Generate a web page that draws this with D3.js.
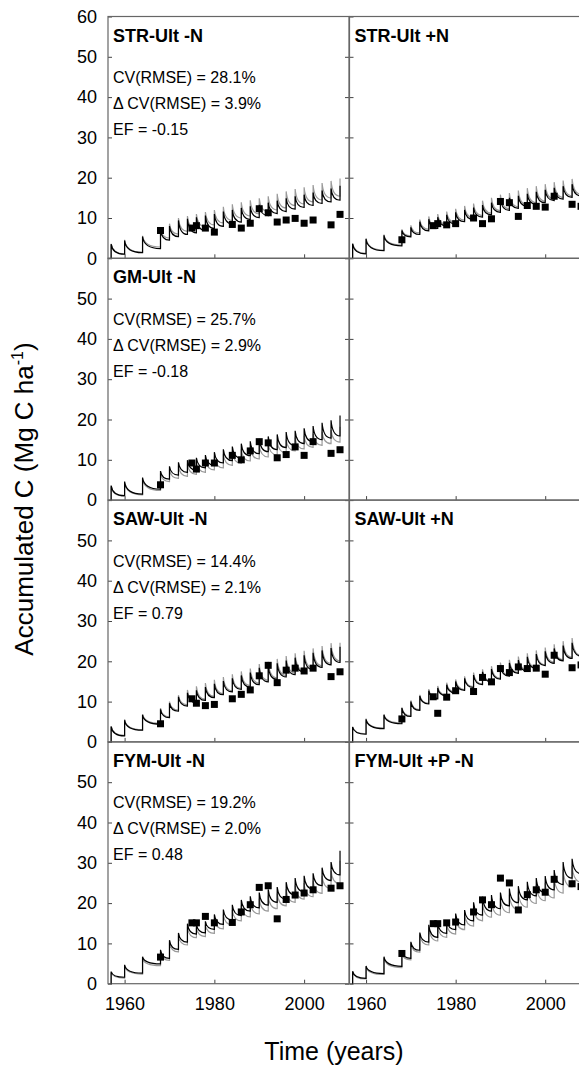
<!DOCTYPE html>
<html>
  <head>
    <meta charset="utf-8">
    <title>Accumulated C</title>
    <script src="https://d3js.org/d3.v7.min.js"></script>
    <style>
    body { margin: 0; background: #fff; }
    text { font-family: "Liberation Sans", Arial, sans-serif; fill: #000; }
    .frame { fill: none; stroke: #666; stroke-width: 1.2px; }
    .axis path { display: none; }
    .axis line { stroke: #444; stroke-width: 1px; }
    .axis text { font-size: 18px; }
    </style>
  </head>
  <body>
    <script>
      // ====================================
      // data
      // ====================================
      // years when the model applies the amendment (sawtooth spikes)
      const appYears = [1957, 1960, 1964, 1968, 1970, 1972, 1974, 1976, 1978, 1980, 1982, 1984,
                        1986, 1988, 1990, 1992, 1994, 1996, 1998, 2000, 2002, 2004, 2006, 2008];
      // years with measured values
      const obsYears = [1968, 1975, 1976, 1978, 1980, 1984, 1986, 1988, 1990, 1992, 1994, 1996,
                        1998, 2000, 2002, 2006, 2008];

      const yTicksTop = [0, 10, 20, 30, 40, 50, 60];
      const yTicks = [0, 10, 20, 30, 40, 50];
      const xTicks = [1960, 1980, 2000];

      // left column stats
      const cvRmse = ["28.1", "25.7", "14.4", "19.2"];
      const dCvRmse = ["3.9", "2.9", "2.1", "2.0"];
      const efValues = ["-0.15", "-0.18", "0.79", "0.48"];

      // STR-Ult -N
      const strN_obs = [6.9, 7.5, 8.1, 7.5, 6.5, 8.4, 7.5, 8.7, 12.3, 11.3, 9.0, 9.5, 9.9, 8.7, 9.5, 8.3, 10.9];
      const strN_greyPeak = [3.6, 4.6, 5.6, 7.4, 8.6, 10.0, 10.5, 11.0, 11.5, 12.0, 12.8, 13.4, 13.9, 14.4, 14.9, 15.4, 16.0, 16.6, 17.2, 17.6, 18.2, 18.7, 19.2, 19.8];
      const strN_greyLow = [1.1, 1.5, 2.8, 5.0, 6.0, 6.7, 7.2, 7.8, 8.3, 8.8, 9.4, 10.0, 10.5, 11.0, 11.6, 12.0, 12.5, 13.1, 13.5, 14.0, 14.5, 15.0, 15.4];
      const strN_blackPeak = [3.5, 4.4, 5.4, 7.0, 8.0, 9.4, 9.8, 10.2, 10.6, 11.0, 11.6, 12.0, 12.5, 12.9, 13.3, 13.8, 14.3, 14.9, 15.4, 15.8, 16.3, 16.8, 17.3, 18.0];
      const strN_blackLow = [1.0, 1.4, 2.4, 4.5, 5.4, 5.9, 6.3, 6.9, 7.4, 7.9, 8.5, 9.0, 9.6, 10.1, 10.6, 11.1, 11.6, 12.2, 12.6, 13.1, 13.6, 14.0, 14.4];

      // STR-Ult +N
      const strP_obs = [4.6, 8.1, 8.6, 8.3, 8.6, 10.0, 8.6, 9.8, 14.1, 13.8, 10.4, 13.1, 12.9, 12.7, 15.4, 13.4, 12.9];
      const strP_greyPeak = [3.7, 5.0, 5.9, 7.2, 8.2, 9.6, 10.4, 11.0, 11.6, 12.3, 13.0, 13.6, 14.3, 15.0, 15.8, 16.2, 16.8, 17.4, 17.9, 18.4, 18.9, 19.3, 19.7, 20.2];
      const strP_greyLow = [1.2, 2.0, 3.3, 5.6, 6.3, 7.2, 7.8, 8.4, 8.9, 9.5, 10.0, 10.6, 11.2, 11.8, 12.3, 12.8, 13.3, 13.8, 14.2, 14.7, 15.1, 15.5, 15.9];
      const strP_blackPeak = [3.6, 4.8, 5.7, 6.9, 7.7, 9.1, 9.7, 10.2, 10.8, 11.4, 12.0, 12.6, 13.2, 13.8, 14.6, 15.0, 15.5, 16.0, 16.5, 17.0, 17.5, 17.9, 18.4, 18.9];
      const strP_blackLow = [1.1, 1.9, 3.1, 5.3, 5.9, 6.8, 7.4, 8.0, 8.5, 9.1, 9.6, 10.2, 10.8, 11.4, 11.9, 12.4, 12.9, 13.4, 13.8, 14.3, 14.7, 15.1, 15.5];

      // GM-Ult -N
      const gmN_obs = [3.8, 9.2, 7.7, 9.2, 9.2, 11.1, 10.0, 12.2, 14.5, 14.2, 10.5, 11.3, 13.2, 11.1, 14.5, 11.6, 12.5];
      const gmN_greyPeak = [3.4, 4.3, 5.2, 6.6, 7.6, 8.5, 9.0, 9.6, 10.2, 10.8, 11.4, 12.0, 12.6, 13.1, 13.6, 14.1, 14.6, 15.1, 15.6, 16.0, 16.5, 17.0, 17.4, 18.2];
      const gmN_greyLow = [1.0, 1.3, 2.4, 4.6, 5.4, 5.9, 6.4, 6.9, 7.5, 8.0, 8.6, 9.1, 9.7, 10.2, 10.7, 11.2, 11.7, 12.2, 12.7, 13.1, 13.6, 14.0, 14.4];
      const gmN_blackPeak = [3.6, 4.6, 5.6, 7.2, 8.4, 9.4, 9.9, 10.5, 11.2, 11.9, 12.6, 13.3, 14.0, 14.6, 15.2, 15.8, 16.3, 16.9, 17.2, 17.8, 18.4, 19.2, 19.8, 21.0];
      const gmN_blackLow = [1.1, 1.5, 2.7, 5.2, 6.2, 6.9, 7.4, 8.0, 8.6, 9.2, 9.8, 10.4, 11.0, 11.5, 12.0, 12.5, 13.0, 13.5, 14.0, 14.5, 15.0, 15.4, 15.9];

      // SAW-Ult -N
      const sawN_obs = [4.5, 10.7, 9.6, 9.0, 9.3, 10.7, 11.8, 12.9, 16.4, 19.0, 14.7, 17.8, 18.3, 17.6, 18.3, 16.2, 17.4];
      const sawN_greyPeak = [3.9, 5.6, 6.9, 8.4, 10.0, 11.6, 12.9, 13.8, 14.6, 15.4, 16.1, 16.8, 17.5, 18.2, 19.3, 19.9, 20.6, 21.3, 22.0, 22.6, 23.2, 23.8, 24.5, 24.6];
      const sawN_greyLow = [1.6, 3.0, 4.6, 6.2, 7.9, 9.2, 10.0, 10.6, 11.3, 12.0, 12.7, 13.3, 14.0, 14.6, 15.3, 15.9, 16.5, 17.1, 17.7, 18.3, 18.9, 19.5, 20.1];
      const sawN_blackPeak = [3.8, 5.4, 6.7, 8.1, 9.6, 11.2, 12.2, 12.8, 13.6, 14.4, 15.1, 15.8, 16.5, 17.2, 18.4, 18.8, 19.5, 20.2, 20.9, 21.5, 22.1, 22.7, 23.3, 23.6];
      const sawN_blackLow = [1.5, 2.9, 4.4, 6.0, 7.6, 8.9, 9.7, 10.3, 11.0, 11.7, 12.4, 13.0, 13.6, 14.2, 14.9, 15.5, 16.1, 16.7, 17.3, 17.9, 18.5, 19.1, 19.7];

      // SAW-Ult +N
      const sawP_obs = [5.7, 11.2, 7.1, 11.1, 12.7, 12.5, 16.0, 14.9, 18.2, 17.2, 18.6, 18.2, 18.3, 16.8, 21.5, 18.4, 19.1];
      const sawP_greyPeak = [3.8, 5.8, 6.9, 8.6, 10.3, 11.7, 13.1, 13.9, 14.7, 15.5, 16.3, 17.2, 18.0, 18.8, 19.7, 20.4, 21.2, 22.0, 22.7, 23.4, 24.2, 25.0, 25.8, 25.6];
      const sawP_greyLow = [2.0, 3.4, 4.7, 6.5, 8.0, 9.6, 10.9, 11.6, 12.3, 13.0, 13.7, 14.4, 15.1, 15.8, 16.5, 17.2, 17.9, 18.5, 19.1, 19.8, 20.4, 21.0, 21.5];
      const sawP_blackPeak = [3.7, 5.6, 6.7, 8.4, 10.0, 11.4, 12.7, 13.4, 14.2, 15.0, 15.8, 16.6, 17.4, 18.1, 18.9, 19.6, 20.3, 21.1, 21.8, 22.5, 23.2, 23.9, 24.6, 24.8];
      const sawP_blackLow = [1.9, 3.3, 4.5, 6.3, 7.8, 9.4, 10.7, 11.4, 12.1, 12.8, 13.5, 14.2, 14.9, 15.6, 16.3, 17.0, 17.6, 18.2, 18.9, 19.5, 20.1, 20.7, 21.3];

      // FYM-Ult -N
      const fymN_obs = [6.6, 15.1, 15.1, 16.7, 15.1, 15.2, 17.8, 19.6, 23.9, 24.3, 16.1, 20.9, 22.0, 22.5, 23.3, 23.7, 24.3];
      const fymN_greyPeak = [2.8, 4.4, 6.3, 7.9, 10.2, 11.9, 14.0, 13.9, 14.6, 16.1, 17.2, 18.3, 19.4, 20.3, 21.1, 21.8, 22.4, 23.5, 24.4, 25.0, 25.6, 26.8, 28.0, 30.5];
      const fymN_greyLow = [1.4, 2.4, 4.5, 5.8, 7.9, 9.6, 11.4, 11.7, 12.5, 13.6, 14.6, 15.6, 16.6, 17.3, 18.0, 18.6, 19.3, 20.2, 21.0, 21.6, 22.4, 23.6, 24.8];
      const fymN_blackPeak = [3.0, 4.7, 6.7, 8.4, 10.8, 12.6, 14.9, 14.8, 15.5, 17.2, 18.4, 19.6, 20.8, 21.7, 22.6, 23.4, 24.0, 25.2, 26.2, 26.8, 27.4, 28.8, 30.2, 33.0];
      const fymN_blackLow = [1.6, 2.6, 4.9, 6.3, 8.5, 10.3, 12.3, 12.6, 13.5, 14.7, 15.8, 16.9, 18.0, 18.8, 19.5, 20.2, 21.0, 22.0, 22.8, 23.5, 24.3, 25.6, 27.0];

      // FYM-Ult +P -N
      const fymP_obs = [7.5, 14.9, 14.9, 15.1, 15.3, 17.8, 20.8, 19.6, 26.2, 25.0, 18.3, 22.1, 23.3, 22.7, 25.9, 24.8, 24.1];
      const fymP_greyPeak = [2.9, 4.2, 6.4, 7.5, 10.0, 12.2, 14.0, 14.2, 14.9, 16.4, 17.2, 18.9, 20.2, 20.6, 21.2, 22.1, 22.7, 23.7, 24.5, 25.0, 26.4, 28.2, 29.2, 30.8];
      const fymP_greyLow = [1.2, 2.3, 4.0, 5.9, 7.8, 9.6, 10.6, 11.5, 12.3, 13.4, 14.3, 15.6, 16.5, 17.0, 17.6, 18.4, 19.0, 19.9, 20.6, 21.3, 22.5, 24.0, 25.2];
      const fymP_blackPeak = [3.1, 4.4, 6.7, 7.9, 10.4, 12.7, 14.6, 15.0, 15.8, 17.4, 18.3, 20.2, 21.6, 22.0, 22.6, 23.6, 24.2, 25.3, 26.2, 26.7, 28.2, 30.2, 31.0, 32.6];
      const fymP_blackLow = [1.3, 2.5, 4.3, 6.3, 8.3, 10.3, 11.5, 12.5, 13.4, 14.6, 15.6, 17.0, 18.0, 18.6, 19.3, 20.1, 20.8, 21.8, 22.6, 23.3, 24.6, 26.2, 27.3];

      // panel table built from the arrays above (row, col)
      const panels = [
        { row: 0, col: 0, title: "STR-Ult -N", obs: strN_obs, grey: [strN_greyPeak, strN_greyLow], black: [strN_blackPeak, strN_blackLow] },
        { row: 0, col: 1, title: "STR-Ult +N", obs: strP_obs, grey: [strP_greyPeak, strP_greyLow], black: [strP_blackPeak, strP_blackLow] },
        { row: 1, col: 0, title: "GM-Ult -N", obs: gmN_obs, grey: [gmN_greyPeak, gmN_greyLow], black: [gmN_blackPeak, gmN_blackLow] },
        { row: 1, col: 1, title: "", obs: null },
        { row: 2, col: 0, title: "SAW-Ult -N", obs: sawN_obs, grey: [sawN_greyPeak, sawN_greyLow], black: [sawN_blackPeak, sawN_blackLow] },
        { row: 2, col: 1, title: "SAW-Ult +N", obs: sawP_obs, grey: [sawP_greyPeak, sawP_greyLow], black: [sawP_blackPeak, sawP_blackLow] },
        { row: 3, col: 0, title: "FYM-Ult -N", obs: fymN_obs, grey: [fymN_greyPeak, fymN_greyLow], black: [fymN_blackPeak, fymN_blackLow] },
        { row: 3, col: 1, title: "FYM-Ult +P -N", obs: fymP_obs, grey: [fymP_greyPeak, fymP_greyLow], black: [fymP_blackPeak, fymP_blackLow] }
      ];

      // ====================================
      // layout
      // ====================================
      const width = 579;
      const height = 1072;
      const topY = 16.5;
      const rowH = 241.8;
      const colX = [[108, 349], [349.5, 590]];

      const svg = d3.select("body")
        .append("svg")
          .attr("width", width)
          .attr("height", height);

      // sawtooth: vertical jump at each application, curved decay to the next low
      function sawPath(peaks, lows, x, y) {
        const p = d3.path();
        p.moveTo(x(appYears[0]), y(0));
        p.lineTo(x(appYears[0]), y(peaks[0]));
        for (let i = 0; i < lows.length; i++) {
          const t0 = appYears[i], t1 = appYears[i + 1];
          p.quadraticCurveTo(x(t0 + 0.3), y(lows[i]), x(t1), y(lows[i]));
          p.lineTo(x(t1), y(peaks[i + 1]));
        }
        return p.toString();
      }

      panels.forEach(function(d) {
        const x0 = colX[d.col][0], x1 = colX[d.col][1];
        const y0 = topY + d.row * rowH, y1 = y0 + rowH;

        const xScale = d3.scaleLinear().domain([1956.3, 2010]).range([x0, x1]);
        const yScale = d3.scaleLinear().domain([0, 60]).range([y1, y0]);

        const g = svg.append("g");

        // left axis (labels only on the left column)
        const yAxis = d3.axisLeft(yScale)
          .tickValues(d.row === 0 ? yTicksTop : yTicks)
          .tickSize(-4)
          .tickPadding(11);
        if (d.col === 1) yAxis.tickFormat("");
        g.append("g")
          .attr("class", "axis")
          .attr("transform", "translate(" + x0 + ",0)")
          .call(yAxis);

        // right side ticks
        g.append("g")
          .attr("class", "axis")
          .attr("transform", "translate(" + x1 + ",0)")
          .call(d3.axisRight(yScale).tickValues(yTicks).tickSize(-4).tickFormat(""));

        // bottom ticks, labels on the last row
        const xAxis = d3.axisBottom(xScale)
          .tickValues(xTicks)
          .tickSize(-4)
          .tickPadding(14)
          .tickFormat(d3.format("d"));
        if (d.row !== 3) xAxis.tickFormat("");
        g.append("g")
          .attr("class", "axis")
          .attr("transform", "translate(0," + y1 + ")")
          .call(xAxis);

        g.append("rect")
          .attr("class", "frame")
          .attr("x", x0)
          .attr("y", y0)
          .attr("width", x1 - x0)
          .attr("height", rowH);

        if (!d.obs) return;

        // simulated lines
        g.append("path")
          .attr("d", sawPath(d.grey[0], d.grey[1], xScale, yScale))
          .attr("fill", "none")
          .attr("stroke", "#9a9a9a")
          .attr("stroke-width", 1.2);
        g.append("path")
          .attr("d", sawPath(d.black[0], d.black[1], xScale, yScale))
          .attr("fill", "none")
          .attr("stroke", "#000")
          .attr("stroke-width", 1.2);

        // measured
        g.selectAll("rect.obs")
          .data(d.obs)
          .enter().append("rect")
            .attr("class", "obs")
            .attr("x", function(v, i) { return xScale(obsYears[i]) - 3.5; })
            .attr("y", function(v) { return yScale(v) - 3.5; })
            .attr("width", 7)
            .attr("height", 7)
            .attr("fill", "#000");

        // labels
        g.append("text")
          .attr("x", x0 + 5)
          .attr("y", y0 + 25)
          .attr("font-size", 18)
          .attr("font-weight", "bold")
          .text(d.title);

        if (d.col === 0) {
          const k = d.row;
          const lines = [
            "CV(RMSE) = " + cvRmse[k] + "%",
            "\u0394 CV(RMSE) = " + dCvRmse[k] + "%",
            "EF = " + efValues[k]
          ];
          g.selectAll("text.stat")
            .data(lines)
            .enter().append("text")
              .attr("class", "stat")
              .attr("x", x0 + 5)
              .attr("y", function(s, i) { return y0 + 66.5 + i * 26; })
              .attr("font-size", 16)
              .text(function(s) { return s; });
        }
      });

      // axis titles
      const yTitle = svg.append("text")
        .attr("transform", "translate(33,499) rotate(-90)")
        .attr("text-anchor", "middle")
        .attr("font-size", 26);
      yTitle.append("tspan").text("Accumulated C (Mg C ha");
      yTitle.append("tspan").attr("font-size", 16).attr("dy", -10).text("-1");
      yTitle.append("tspan").attr("dy", 10).text(")");

      svg.append("text")
        .attr("x", 334)
        .attr("y", 1060)
        .attr("text-anchor", "middle")
        .attr("font-size", 25)
        .text("Time (years)");
    </script>
  </body>
</html>
